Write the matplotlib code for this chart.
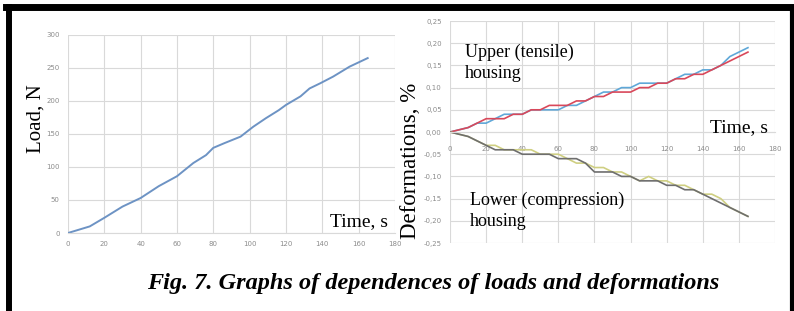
import matplotlib
matplotlib.use("Agg")
import matplotlib.pyplot as plt
from matplotlib.lines import Line2D

# load curve (left panel)
t_load = [0, 12, 20, 30, 40, 50, 60, 69, 76, 80, 86, 95, 102, 109, 116, 120,
          128, 133, 139, 146, 155, 165]
load = [0, 10, 23, 40, 53, 71, 86, 106, 118, 129, 136, 146, 161, 174, 186, 194,
        207, 219, 227, 237, 252, 265]

# deformations (right panel)
t_def = [0, 5, 10, 15, 20, 25, 30, 35, 40, 45, 50, 55, 60, 65, 70, 75, 80, 85,
         90, 95, 100, 105, 110, 115, 120, 125, 130, 135, 140, 145, 150, 155, 160, 165]
upper_blue = [0, 0.005, 0.01, 0.02, 0.02, 0.03, 0.04, 0.04, 0.04, 0.05, 0.05, 0.05,
              0.05, 0.06, 0.06, 0.07, 0.08, 0.09, 0.09, 0.10, 0.10, 0.11, 0.11, 0.11,
              0.11, 0.12, 0.13, 0.13, 0.14, 0.14, 0.15, 0.17, 0.18, 0.19]
upper_red = [0, 0.005, 0.01, 0.02, 0.03, 0.03, 0.03, 0.04, 0.04, 0.05, 0.05, 0.06,
             0.06, 0.06, 0.07, 0.07, 0.08, 0.08, 0.09, 0.09, 0.09, 0.10, 0.10, 0.11,
             0.11, 0.12, 0.12, 0.13, 0.13, 0.14, 0.15, 0.16, 0.17, 0.18]
lower_grey = [0, -0.005, -0.01, -0.02, -0.03, -0.04, -0.04, -0.04, -0.05, -0.05, -0.05,
              -0.05, -0.06, -0.06, -0.06, -0.07, -0.09, -0.09, -0.09, -0.10, -0.10,
              -0.11, -0.11, -0.11, -0.12, -0.12, -0.13, -0.13, -0.14, -0.15, -0.16,
              -0.17, -0.18, -0.19]
lower_yellow = [0, -0.005, -0.01, -0.02, -0.03, -0.03, -0.04, -0.04, -0.04, -0.04, -0.05,
                -0.05, -0.05, -0.06, -0.07, -0.07, -0.08, -0.08, -0.09, -0.09, -0.10,
                -0.11, -0.10, -0.11, -0.11, -0.12, -0.12, -0.13, -0.14, -0.14, -0.15,
                -0.17, -0.18, -0.19]

x_ticks = list(range(0, 181, 20))
load_ticks = list(range(0, 301, 50))
def_ticks = [-0.25, -0.20, -0.15, -0.10, -0.05, 0.0, 0.05, 0.10, 0.15, 0.20, 0.25]

serif = "Liberation Serif"
grid_c = "#d9d9d9"
tick_c = "#8c8c8c"

fig = plt.figure(figsize=(7.94, 3.11), dpi=100)


def excel_axes(ax):
    for s in ["top", "right", "left"]:
        ax.spines[s].set_visible(False)
    ax.spines["bottom"].set_color(grid_c)
    ax.spines["bottom"].set_linewidth(0.8)
    ax.grid(True, color=grid_c, linewidth=0.8)
    ax.set_axisbelow(True)
    ax.tick_params(length=0, labelsize=5, labelcolor=tick_c, pad=6)


# left panel
ax1 = fig.add_axes([0.0856, 0.2508, 0.4118, 0.6367])
excel_axes(ax1)
ax1.plot(t_load, load, color="#6d93c4", linewidth=1.4)
ax1.set_xlim(0, 180)
ax1.set_ylim(0, 300)
ax1.set_xticks(x_ticks)
ax1.set_yticks(load_ticks)
ax1.set_ylabel("Load, N", family=serif, fontsize=15)
ax1.yaxis.set_label_coords(-0.070, 0.576)
ax1.text(0.98, 0.056, "Time, s", transform=ax1.transAxes, family=serif,
         fontsize=14, ha="right", va="center")

# right panel
ax2 = fig.add_axes([0.5668, 0.2186, 0.4093, 0.7138])
excel_axes(ax2)
ax2.spines["bottom"].set_position(("data", 0))
ax2.plot(t_def, upper_blue, color="#5fa8d8", linewidth=1.2)
ax2.plot(t_def, upper_red, color="#d9485a", linewidth=1.2)
ax2.plot(t_def, lower_yellow, color="#cfcf82", linewidth=1.2)
ax2.plot(t_def, lower_grey, color="#6e6e6e", linewidth=1.2)
ax2.set_xlim(0, 180)
ax2.set_ylim(-0.25, 0.25)
ax2.set_xticks(x_ticks)
ax2.set_yticks(def_ticks)
ax2.set_yticklabels([f"{v:.2f}".replace(".", ",") for v in def_ticks])
ax2.tick_params(axis="x", pad=10)
ax2.set_ylabel("Deformations, %", family=serif, fontsize=16.5)
ax2.yaxis.set_label_coords(-0.088, 0.37)
ax2.text(0.978, 0.518, "Time, s", transform=ax2.transAxes, family=serif,
         fontsize=14, ha="right", va="center")
ax2.text(0.046, 0.81, "Upper (tensile)\nhousing", transform=ax2.transAxes,
         family=serif, fontsize=13, ha="left", va="center", linespacing=1.3)
ax2.text(0.062, 0.144, "Lower (compression)\nhousing", transform=ax2.transAxes,
         family=serif, fontsize=13, ha="left", va="center", linespacing=1.3)

# caption
fig.text(433 / 794, 1 - 283 / 311, "Fig. 7. Graphs of dependences of loads and deformations",
         family=serif, fontsize=17.5, fontweight="bold", fontstyle="italic",
         ha="center", va="center")

# black frame (open at bottom)
fig.add_artist(Line2D([9 / 794, 9 / 794], [0, 1 - 6.5 / 311], color="black",
                      linewidth=4.3, transform=fig.transFigure))
fig.add_artist(Line2D([6 / 794, 794 / 794], [1 - 6.5 / 311, 1 - 6.5 / 311],
                      color="black", linewidth=5, transform=fig.transFigure))
fig.add_artist(Line2D([792 / 794, 792 / 794], [0, 1 - 6.5 / 311], color="black",
                      linewidth=3, transform=fig.transFigure))

fig.savefig("out.png", dpi=100)
